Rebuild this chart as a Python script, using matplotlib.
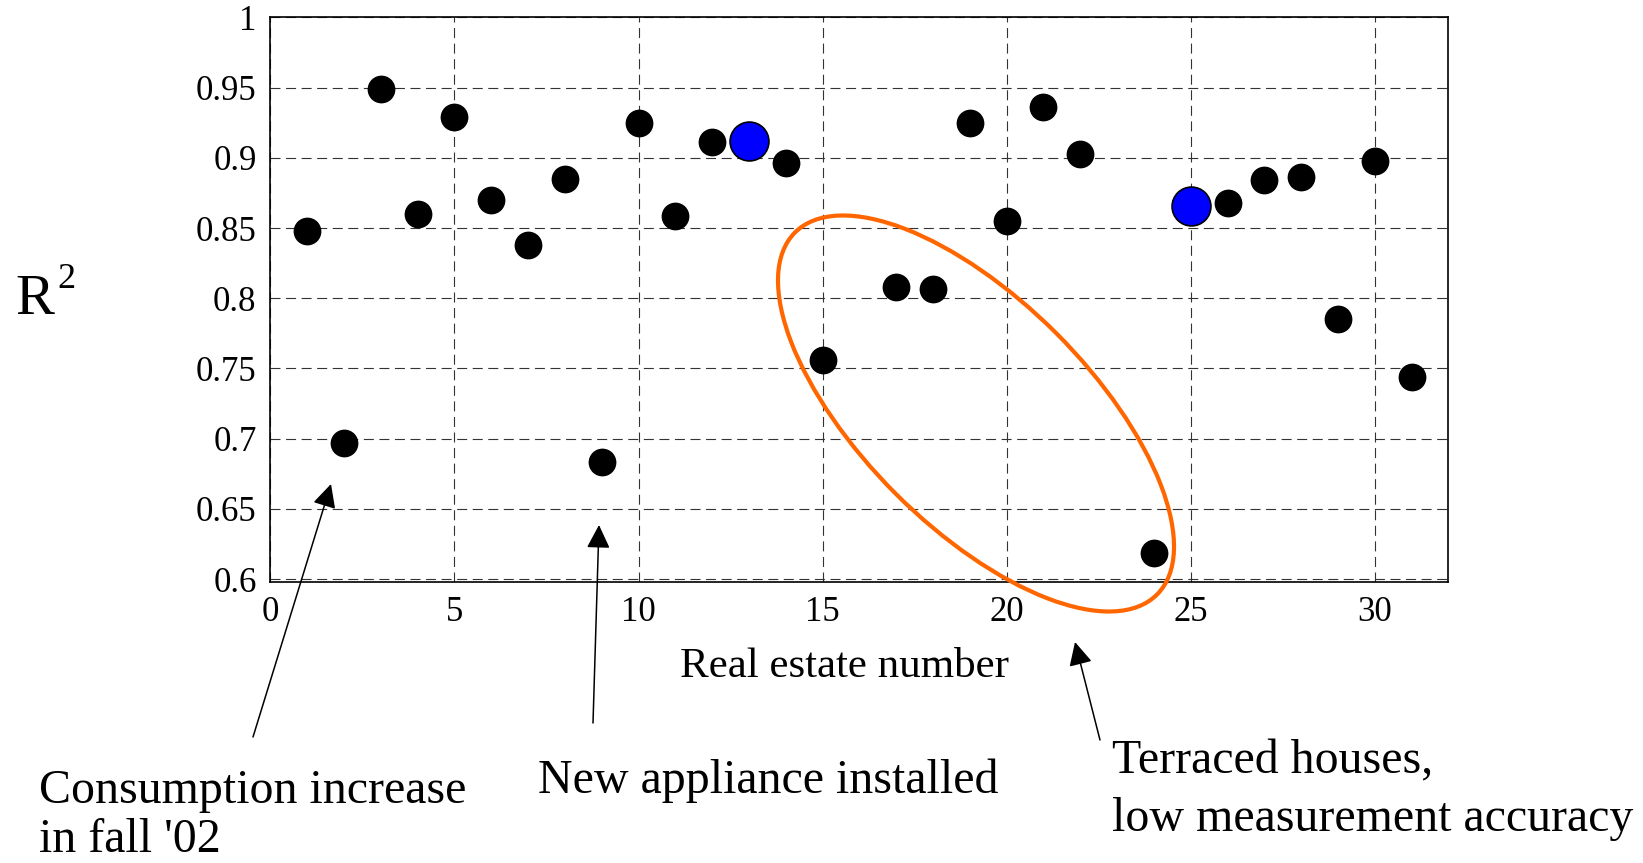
import numpy as np
import matplotlib
matplotlib.use("Agg")
import matplotlib.pyplot as plt
from matplotlib.patches import Ellipse

plt.rcParams['font.family'] = ['Liberation Serif', 'DejaVu Serif']

# R^2 per real estate (16 and 23 have no value)
estate = [1, 2, 3, 4, 5, 6, 7, 8, 9, 10, 11, 12, 14, 15, 17, 18, 19, 20, 21, 22, 24, 26, 27, 28, 29, 30, 31]
r2 = [0.848, 0.697, 0.949, 0.860, 0.929, 0.870, 0.838, 0.885, 0.6835, 0.925, 0.8585, 0.911,
      0.896, 0.756, 0.808, 0.8065, 0.925, 0.855, 0.936, 0.903, 0.619, 0.868, 0.884, 0.886,
      0.7854, 0.898, 0.744]
# highlighted estates
blue_estate = [13, 25]
blue_r2 = [0.912, 0.866]

xticks = [0, 5, 10, 15, 20, 25, 30]
yticks = [0.6, 0.65, 0.7, 0.75, 0.8, 0.85, 0.9, 0.95, 1]
ytick_labels = ['0.6', '0.65', '0.7', '0.75', '0.8', '0.85', '0.9', '0.95', '1']

W, H = 1643, 863
fig = plt.figure(figsize=(W / 100, H / 100), dpi=100)
ax = fig.add_axes([270.4 / W, 1 - 582 / H, 1178 / W, (582 - 17.3) / H])


def fx(px):
    return px / W


def fy(py):
    return 1 - py / H


ax.plot(estate, r2, 'o', color='black', ms=20, mec='black', mew=0, zorder=3)
ax.plot(blue_estate, blue_r2, 'o', color='#0000FF', ms=28, mec='black', mew=1.2, zorder=3)

ax.set_xlim(0, 32)
ax.set_ylim(0.598, 1.0)
ax.set_xticks(xticks)
ax.set_yticks(yticks)
ax.set_yticklabels(ytick_labels)
ax.grid(True, color='0.2', linestyle=(0, (9, 5)), linewidth=0.8)
ax.tick_params(direction='in', length=0, labelsize=25)
ax.tick_params(axis='x', pad=10)
ax.tick_params(axis='y', pad=10)
for s in ax.spines.values():
    s.set_linewidth(1.2)

ax.set_xlabel('Real estate number', fontsize=31)
ax.xaxis.label.set_va('baseline')
ax.xaxis.set_label_coords(0.487, -(677 - 582) / (582 - 17.3))

# y label R^2
fig.text(fx(15), fy(314), 'R', fontsize=42, va='baseline', ha='left')
fig.text(fx(57), fy(288), '2', fontsize=26, va='baseline', ha='left')

# orange ellipse around terraced houses
ell = Ellipse((9.76, 4.495), 5.12, 2.27, angle=-45, transform=fig.dpi_scale_trans,
              fill=False, edgecolor='#FF6600', linewidth=3, clip_on=False, zorder=4)
fig.add_artist(ell)

# annotations
arrow = dict(arrowstyle='-|>,head_length=0.72,head_width=0.36', color='black', lw=1.1,
             shrinkA=0, shrinkB=0, mutation_scale=20)
arrows = [((253, 737), (331, 484)), ((593, 723), (599, 525)), ((1100, 740), (1075, 642))]
for tail, tip in arrows:
    fig.add_artist(plt.matplotlib.patches.FancyArrowPatch(
        (fx(tail[0]), fy(tail[1])), (fx(tip[0]), fy(tip[1])),
        transform=fig.transFigure, **arrow))

fs = 34.5
fig.text(fx(39), fy(803), 'Consumption increase', fontsize=fs, va='baseline')
fig.text(fx(39), fy(852), "in fall '02", fontsize=fs, va='baseline')
fig.text(fx(538), fy(793), 'New appliance installed', fontsize=fs, va='baseline')
fig.text(fx(1112), fy(773), 'Terraced houses,', fontsize=fs, va='baseline')
fig.text(fx(1112), fy(831), 'low measurement accuracy', fontsize=fs, va='baseline')

fig.savefig('out.png', dpi=100)
